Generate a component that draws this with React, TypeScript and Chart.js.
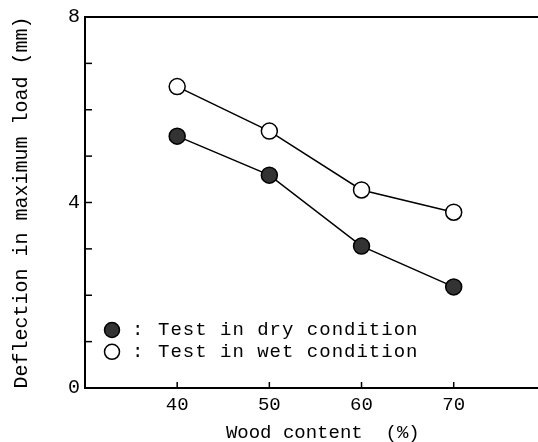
import React, { useEffect, useRef } from "react";
import { Chart, registerables } from "chart.js";

Chart.register(...registerables);

const xValues = [40, 50, 60, 70];
const dryValues = [5.43, 4.59, 3.06, 2.18];
const wetValues = [6.5, 5.54, 4.27, 3.79];
const xTickValues = [40, 50, 60, 70];
const yTickValues = [0, 1, 2, 3, 4, 5, 6, 7, 8];
const yLabelledTicks = [0, 4, 8];
const legendLabels = ["Test in dry condition", "Test in wet condition"];
const xTitle = "Wood content  (%)";
const yTitle = "Deflection in maximum load (mm)";

const FONT = "'Liberation Mono', 'DejaVu Sans Mono', monospace";

const framePlugin = {
  id: "frame",
  afterDraw(chart: any) {
    const ctx = chart.ctx;
    const { left, right, top, bottom } = chart.chartArea;
    const xs = chart.scales.x;
    const ys = chart.scales.y;
    ctx.save();
    ctx.strokeStyle = "#000";
    // top border
    ctx.lineWidth = 2;
    ctx.beginPath();
    ctx.moveTo(left, top);
    ctx.lineTo(right, top);
    ctx.stroke();
    // inward ticks
    ctx.lineWidth = 1.5;
    yTickValues.forEach((v) => {
      const y = ys.getPixelForValue(v);
      ctx.beginPath();
      ctx.moveTo(left, y);
      ctx.lineTo(left + 7, y);
      ctx.stroke();
    });
    xTickValues.forEach((v) => {
      const x = xs.getPixelForValue(v);
      ctx.beginPath();
      ctx.moveTo(x, bottom);
      ctx.lineTo(x, bottom - 6);
      ctx.stroke();
    });
    // x title
    ctx.fillStyle = "#000";
    ctx.font = `19px ${FONT}`;
    ctx.textAlign = "center";
    ctx.textBaseline = "middle";
    ctx.fillText(xTitle, xs.getPixelForValue(55.8), bottom + 45);
    // legend
    const lx = left + 27;
    const rows = [
      { y: ys.getPixelForValue(1.25), filled: true, text: legendLabels[0] },
      { y: ys.getPixelForValue(0.78), filled: false, text: legendLabels[1] },
    ];
    ctx.font = `19px ${FONT}`;
    ctx.textBaseline = "middle";
    ctx.textAlign = "left";
    try { (ctx as any).letterSpacing = "1px"; } catch (e) {}
    rows.forEach((r) => {
      ctx.beginPath();
      ctx.arc(lx, r.y, 7.5, 0, Math.PI * 2);
      ctx.lineWidth = 1.5;
      ctx.fillStyle = r.filled ? "#333" : "#fff";
      ctx.fill();
      ctx.strokeStyle = "#000";
      ctx.stroke();
      ctx.fillStyle = "#000";
      ctx.fillText(":", lx + 20, r.y);
      ctx.fillText(r.text, lx + 46, r.y);
    });
    ctx.restore();
  },
};

export default function App() {
  const ref = useRef<HTMLCanvasElement>(null);
  useEffect(() => {
    if (!ref.current) return;
    const chart = new Chart(ref.current, {
      type: "line",
      data: {
        datasets: [
          {
            label: legendLabels[1],
            data: xValues.map((x, i) => ({ x, y: wetValues[i] })),
            borderColor: "#000",
            borderWidth: 1.5,
            backgroundColor: "#fff",
            pointBackgroundColor: "#fff",
            pointBorderColor: "#000",
            pointBorderWidth: 1.5,
            pointRadius: 8,
            tension: 0,
          },
          {
            label: legendLabels[0],
            data: xValues.map((x, i) => ({ x, y: dryValues[i] })),
            borderColor: "#000",
            borderWidth: 1.5,
            backgroundColor: "#333",
            pointBackgroundColor: "#333",
            pointBorderColor: "#000",
            pointBorderWidth: 1.5,
            pointRadius: 8,
            tension: 0,
          },
        ],
      },
      options: {
        responsive: false,
        maintainAspectRatio: false,
        animation: false,
        layout: { padding: { top: 17, right: 0, left: 0, bottom: 0 } },
        plugins: {
          legend: { display: false },
          tooltip: { enabled: false },
        },
        scales: {
          x: {
            type: "linear",
            min: 30,
            max: 79.2,
            grid: { display: false, drawTicks: false },
            border: { display: true, color: "#000", width: 2 },
            afterBuildTicks: (s: any) => {
              s.ticks = xTickValues.map((v) => ({ value: v }));
            },
            afterFit: (s: any) => {
              s.height = 54;
            },
            ticks: {
              color: "#000",
              padding: 6,
              font: { family: FONT, size: 19 },
              maxRotation: 0,
            },
            title: { display: false },
          },
          y: {
            type: "linear",
            min: 0,
            max: 8,
            grid: { display: false, drawTicks: false },
            border: { display: true, color: "#000", width: 2 },
            afterBuildTicks: (s: any) => {
              s.ticks = yLabelledTicks.map((v) => ({ value: v }));
            },
            afterFit: (s: any) => {
              s.width = 85;
            },
            ticks: {
              color: "#000",
              padding: 5,
              font: { family: FONT, size: 20 },
            },
            title: {
              display: true,
              text: yTitle,
              color: "#000",
              font: { family: FONT, size: 20 },
              padding: { top: 10, bottom: 0 },
            },
          },
        },
      },
      plugins: [framePlugin],
    } as any);
    return () => chart.destroy();
  }, []);
  return (
    <div style={{ position: "fixed", left: 0, top: 0, width: 538, height: 442, overflow: "hidden", background: "#fff" }}>
      <canvas ref={ref} width={548} height={442} style={{ display: "block" }} />
    </div>
  );
}
